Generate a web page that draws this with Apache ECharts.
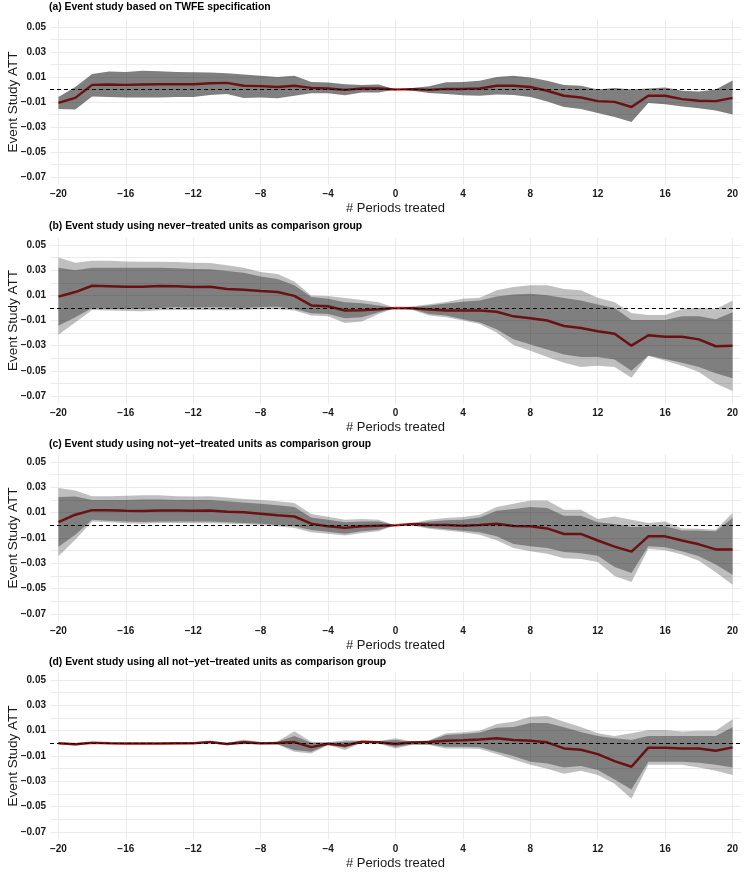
<!DOCTYPE html>
<html>
<head>
<meta charset="utf-8">
<script src="https://cdn.jsdelivr.net/npm/echarts@6/dist/echarts.min.js"></script>
<style>
  html, body { margin: 0; background: #fff; }
  #main { width: 747px; height: 872px; }
</style>
</head>
<body>
<div id="main"></div>
<script>
// periods relative to treatment
const periods = [-20, -19, -18, -17, -16, -15, -14, -13, -12, -11, -10, -9, -8, -7, -6, -5, -4, -3, -2, -1,
  0, 1, 2, 3, 4, 5, 6, 7, 8, 9, 10, 11, 12, 13, 14, 15, 16, 17, 18, 19, 20];
const xTicks = [-20, -16, -12, -8, -4, 0, 4, 8, 12, 16, 20];
const yLabels = [-0.07, -0.05, -0.03, -0.01, 0.01, 0.03, 0.05];
const yGrid = [-0.07, -0.06, -0.05, -0.04, -0.03, -0.02, -0.01, 0, 0.01, 0.02, 0.03, 0.04, 0.05];

const titles = [
  '(a) Event study based on TWFE specification',
  '(b) Event study using never\u2212treated units as comparison group',
  '(c) Event study using not\u2212yet\u2212treated units as comparison group',
  '(d) Event study using all not\u2212yet\u2212treated units as comparison group'
];

// (a) TWFE
const estA = [-0.0107, -0.0067, 0.0037, 0.004, 0.0037, 0.004, 0.0042, 0.0042, 0.0042, 0.005, 0.0053, 0.003, 0.0027, 0.002, 0.003, 0.0013, 0.0008, -0.0003, 0.0008, 0.0008,
  0, 0.0003, -0.0003, 0.0005, 0.0005, 0.0008, 0.003, 0.003, 0.002, -0.001, -0.005, -0.0064, -0.0093, -0.0099, -0.014, -0.005, -0.005, -0.0077, -0.009, -0.0093, -0.0067];
const hiA = [-0.006, 0.002, 0.0125, 0.0144, 0.014, 0.015, 0.0147, 0.014, 0.0139, 0.0136, 0.013, 0.012, 0.011, 0.010, 0.011, 0.006, 0.0056, 0.0043, 0.0037, 0.004,
  0, 0.0013, 0.0027, 0.0059, 0.006, 0.007, 0.010, 0.011, 0.0096, 0.007, 0.0037, 0.003, 0, 0.0013, 0, 0.0008, 0.0016, -0.001, -0.0016, 0, 0.0072];
const loA = [-0.0155, -0.016, -0.0056, -0.006, -0.0064, -0.0064, -0.0064, -0.006, -0.006, -0.0043, -0.0035, -0.0067, -0.0064, -0.007, -0.005, -0.003, -0.003, -0.0045, -0.0024, -0.0024,
  0, -0.001, -0.0027, -0.0035, -0.0045, -0.005, -0.004, -0.0043, -0.006, -0.0096, -0.014, -0.0155, -0.0187, -0.022, -0.026, -0.0107, -0.0117, -0.0136, -0.015, -0.0168, -0.020];

// (b) never-treated
const estB = [0.009, 0.0126, 0.0176, 0.0172, 0.0168, 0.0168, 0.0174, 0.0172, 0.0166, 0.0168, 0.015, 0.0144, 0.0134, 0.0126, 0.0096, 0.002, 0.0013, -0.002, -0.0019, -0.001,
  0, -0.0003, -0.0013, -0.002, -0.002, -0.002, -0.003, -0.0067, -0.0083, -0.010, -0.0144, -0.016, -0.0185, -0.0206, -0.030, -0.0217, -0.023, -0.023, -0.025, -0.0305, -0.030];
const darkHiB = [0.032, 0.030, 0.032, 0.032, 0.032, 0.032, 0.032, 0.0315, 0.031, 0.0307, 0.0294, 0.028, 0.025, 0.023, 0.018, 0.0086, 0.0072, 0.0045, 0.0037, 0.002,
  0, 0.0005, 0.002, 0.0035, 0.005, 0.006, 0.009, 0.0107, 0.0112, 0.010, 0.0078, 0.006, 0.0027, 0, -0.0096, -0.0096, -0.0096, -0.0067, -0.0067, -0.009, -0.0035];
const darkLoB = [-0.0142, -0.0075, 0, -0.0008, -0.0008, -0.0008, 0, 0.0005, 0.0003, 0.0005, 0.0003, 0, 0.0008, 0.001, -0.0008, -0.0043, -0.0048, -0.0083, -0.0075, -0.0035,
  0, -0.001, -0.0048, -0.006, -0.009, -0.0115, -0.017, -0.025, -0.029, -0.033, -0.037, -0.039, -0.039, -0.041, -0.050, -0.038, -0.0406, -0.0436, -0.047, -0.052, -0.056];
const lightHiB = [0.040, 0.036, 0.0375, 0.0375, 0.037, 0.0367, 0.0367, 0.0365, 0.036, 0.0357, 0.034, 0.032, 0.0286, 0.027, 0.021, 0.0099, 0.0094, 0.0078, 0.0064, 0.0045,
  0, 0.0013, 0.003, 0.0048, 0.0072, 0.008, 0.014, 0.0166, 0.018, 0.018, 0.015, 0.014, 0.008, 0.0045, -0.004, -0.0056, -0.0056, -0.0008, 0, -0.001, 0.006];
const lightLoB = [-0.0214, -0.0115, -0.0016, -0.002, -0.0024, -0.0027, -0.0019, -0.0016, -0.0016, -0.0016, -0.0019, -0.0016, -0.0011, -0.0011, -0.002, -0.006, -0.0067, -0.012, -0.0107, -0.0048,
  0, -0.0016, -0.006, -0.0075, -0.010, -0.0128, -0.0195, -0.0294, -0.034, -0.039, -0.0436, -0.047, -0.046, -0.047, -0.0556, -0.038, -0.042, -0.046, -0.051, -0.060, -0.066];

// (c) not-yet-treated
const estC = [0.0026, 0.0084, 0.012, 0.012, 0.0116, 0.0113, 0.0118, 0.0118, 0.0116, 0.0118, 0.0108, 0.0103, 0.0092, 0.008, 0.007, 0.0013, -0.0008, -0.002, -0.0008, -0.0003,
  0, 0.001, 0.0005, 0.0003, -0.0003, 0.0003, 0.0013, -0.0005, -0.0008, -0.0024, -0.0068, -0.0068, -0.012, -0.0168, -0.0208, -0.0087, -0.0087, -0.012, -0.015, -0.019, -0.019];
const darkHiC = [0.0224, 0.0229, 0.020, 0.020, 0.020, 0.0205, 0.0205, 0.020, 0.020, 0.020, 0.019, 0.018, 0.017, 0.0158, 0.0145, 0.0063, 0.0045, 0.0024, 0.003, 0.003,
  0, 0.0016, 0.003, 0.004, 0.0045, 0.0063, 0.0116, 0.013, 0.0145, 0.0137, 0.0076, 0.0076, 0.0024, 0.001, -0.0013, -0.0008, -0.0008, -0.004, -0.004, -0.0047, 0.0058];
const darkLoC = [-0.017, -0.0074, 0.0045, 0.0037, 0.003, 0.0026, 0.003, 0.003, 0.003, 0.003, 0.0024, 0.0018, 0.0013, 0.0003, -0.0008, -0.0037, -0.005, -0.0066, -0.0047, -0.0034,
  0, 0.0003, -0.0018, -0.003, -0.0042, -0.0055, -0.0087, -0.0147, -0.0166, -0.018, -0.021, -0.022, -0.024, -0.033, -0.0376, -0.0166, -0.0174, -0.0205, -0.0245, -0.031, -0.039];
const lightHiC = [0.0295, 0.0276, 0.023, 0.023, 0.0233, 0.0237, 0.0237, 0.023, 0.0228, 0.023, 0.022, 0.0208, 0.020, 0.019, 0.0176, 0.009, 0.0068, 0.0045, 0.005, 0.0045,
  0, 0.0018, 0.0045, 0.0058, 0.0066, 0.0084, 0.0145, 0.017, 0.0197, 0.0197, 0.0124, 0.0124, 0.005, 0.007, 0.0045, 0.0018, 0.003, -0.0024, -0.0027, -0.0034, 0.0097];
const lightLoC = [-0.0245, -0.0113, 0.003, 0.0024, 0.0016, 0.0013, 0.0018, 0.0018, 0.0016, 0.0016, 0.0013, 0.0008, 0.0003, -0.0008, -0.002, -0.0055, -0.0066, -0.008, -0.006, -0.0047,
  0, -0.0003, -0.0026, -0.004, -0.0055, -0.0074, -0.0118, -0.018, -0.0205, -0.0224, -0.026, -0.0266, -0.029, -0.040, -0.0447, -0.0187, -0.0197, -0.023, -0.028, -0.037, -0.047];

// (d) all not-yet-treated
const estD = [0, -0.0008, 0.0005, 0, -0.0002, -0.0002, -0.0002, 0, 0, 0.001, -0.0005, 0.0008, 0, 0.0002, 0.001, -0.003, -0.0003, -0.0018, 0.0013, 0.0008,
  -0.0005, 0.0008, 0.001, 0.002, 0.0024, 0.003, 0.004, 0.0026, 0.002, 0.0008, -0.004, -0.005, -0.0085, -0.014, -0.0185, -0.0034, -0.0034, -0.004, -0.004, -0.0058, -0.0032];
const darkHiD = [0.0006, 0, 0.0011, 0.0006, 0.0004, 0.0004, 0.0004, 0.0007, 0.0006, 0.0017, 0.0003, 0.002, 0.0007, 0.0012, 0.0058, 0.0005, 0.0005, 0.0012, 0.0019, 0.0016,
  0.0026, 0.0013, 0.002, 0.0066, 0.0074, 0.0085, 0.0124, 0.013, 0.016, 0.016, 0.0127, 0.009, 0.0058, 0.004, 0.0026, 0.0058, 0.0058, 0.0058, 0.0058, 0.0058, 0.0127];
const darkLoD = [-0.0006, -0.0016, -0.0001, -0.0006, -0.0008, -0.0008, -0.0008, -0.0007, -0.0006, 0.0003, -0.0013, -0.0004, -0.0007, -0.0008, -0.0053, -0.0066, -0.0011, -0.0034, 0.0007, 0,
  -0.0026, -0.001, -0.001, -0.0026, -0.0026, -0.003, -0.0066, -0.010, -0.0145, -0.016, -0.019, -0.018, -0.021, -0.0286, -0.0365, -0.0145, -0.0145, -0.0145, -0.0153, -0.017, -0.019];
const lightHiD = [0.0008, 0.0002, 0.0013, 0.0008, 0.0006, 0.0006, 0.0006, 0.0009, 0.0008, 0.0019, 0.0005, 0.003, 0.0009, 0.0015, 0.0095, 0.0012, 0.0008, 0.0024, 0.0022, 0.0019,
  0.004, 0.0015, 0.0025, 0.008, 0.0087, 0.010, 0.0153, 0.017, 0.021, 0.0217, 0.017, 0.013, 0.008, 0.0058, 0.008, 0.0106, 0.0106, 0.0093, 0.010, 0.010, 0.019];
const lightLoD = [-0.0008, -0.0018, -0.0003, -0.0008, -0.001, -0.001, -0.001, -0.0009, -0.0008, 0.0001, -0.0015, -0.0007, -0.0009, -0.001, -0.0066, -0.008, -0.0014, -0.0053, 0.0004, -0.0003,
  -0.004, -0.0012, -0.0013, -0.004, -0.004, -0.0045, -0.0085, -0.0127, -0.017, -0.020, -0.024, -0.0217, -0.025, -0.032, -0.0437, -0.017, -0.017, -0.017, -0.019, -0.0217, -0.025];

const panels = [
  { est: estA, bands: [{ lo: loA, hi: hiA, color: 'rgba(0,0,0,0.5)' }] },
  { est: estB, bands: [{ lo: lightLoB, hi: lightHiB, color: 'rgba(0,0,0,0.25)' }, { lo: darkLoB, hi: darkHiB, color: 'rgba(0,0,0,0.333)' }] },
  { est: estC, bands: [{ lo: lightLoC, hi: lightHiC, color: 'rgba(0,0,0,0.25)' }, { lo: darkLoC, hi: darkHiC, color: 'rgba(0,0,0,0.333)' }] },
  { est: estD, bands: [{ lo: lightLoD, hi: lightHiD, color: 'rgba(0,0,0,0.25)' }, { lo: darkLoD, hi: darkHiD, color: 'rgba(0,0,0,0.333)' }] }
];

// panel geometry (top, height, title top)
const gridTop = [19.5, 237.5, 454.5, 672.5];
const gridH = [165, 166, 167, 167];
const titleTop = [2, 221, 439, 657];

const minus = v => String(v).replace('-', '\u2212');

const grids = [], xAxes = [], yAxes = [], series = [], titleList = [];

panels.forEach((p, k) => {
  grids.push({ left: 50, right: 6, top: gridTop[k], height: gridH[k], outerBoundsMode: 'none', containLabel: false });
  titleList.push({
    text: titles[k], left: 49, top: titleTop[k], padding: 0,
    textStyle: { fontSize: 10.4, fontWeight: 'bold', color: '#000', fontFamily: 'Liberation Sans' }
  });
  // category axis carries the data and the labels
  xAxes.push({
    gridIndex: k, type: 'category', data: periods, boundaryGap: true,
    axisLine: { show: false },
    axisTick: { show: false },
    axisLabel: {
      interval: (i, v) => xTicks.includes(+v), margin: 5,
      fontSize: 10, fontWeight: 'bold', color: '#1a1a1a',
      formatter: v => minus(v)
    },
    splitLine: { show: false },
    name: '# Periods treated', nameLocation: 'middle', nameGap: 17, nameMoveOverlap: false,
    nameTextStyle: { fontSize: 13, color: '#1a1a1a' }
  });
  // matching value axis only for the vertical grid lines
  xAxes.push({
    gridIndex: k, type: 'value', min: -20.5, max: 20.5, position: 'bottom',
    axisLine: { show: false },
    axisTick: { show: false, customValues: xTicks },
    axisLabel: { show: false },
    splitLine: { show: true, lineStyle: { color: '#ebebeb', width: 1 } }
  });
  yAxes.push({
    gridIndex: k, type: 'value', min: -0.076, max: 0.056,
    axisLine: { show: false },
    axisTick: { show: false, customValues: yGrid },
    axisLabel: {
      customValues: yLabels, margin: 4, fontSize: 10, fontWeight: 'bold', color: '#1a1a1a',
      formatter: v => minus(v.toFixed(2))
    },
    splitLine: { show: true, lineStyle: { color: '#ebebeb', width: 1 } },
    name: 'Event Study ATT', nameLocation: 'middle', nameGap: 30, nameMoveOverlap: false,
    nameTextStyle: { fontSize: 13.5, color: '#1a1a1a' }
  });

  const xi = 2 * k;
  // estimate line, drawn under the translucent ribbons like the original
  series.push({
    type: 'line', xAxisIndex: xi, yAxisIndex: k, data: p.est,
    symbol: 'none', silent: true, z: 2,
    lineStyle: { color: '#d42424', width: 2.5 },
    markLine: {
      silent: true, symbol: 'none', label: { show: false },
      lineStyle: { color: '#000', type: [4, 3], width: 1 },
      data: [{ yAxis: 0 }]
    }
  });

  p.bands.forEach((b, j) => {
    const st = 'band' + k + '_' + j;
    series.push({
      type: 'line', xAxisIndex: xi, yAxisIndex: k, stack: st, stackStrategy: 'all',
      data: b.lo, symbol: 'none', silent: true, z: 3,
      lineStyle: { opacity: 0 }
    });
    series.push({
      type: 'line', xAxisIndex: xi, yAxisIndex: k, stack: st, stackStrategy: 'all',
      data: b.hi.map((h, i) => +(h - b.lo[i]).toFixed(5)),
      symbol: 'none', silent: true, z: 3,
      lineStyle: { opacity: 0 },
      areaStyle: { color: b.color, opacity: 1 }
    });
  });
});

const myChart = echarts.init(document.getElementById('main'));
myChart.setOption({
  animation: false,
  backgroundColor: '#fff',
  textStyle: { fontFamily: 'Liberation Sans' },
  title: titleList,
  grid: grids,
  xAxis: xAxes,
  yAxis: yAxes,
  series: series
});
</script>
</body>
</html>
